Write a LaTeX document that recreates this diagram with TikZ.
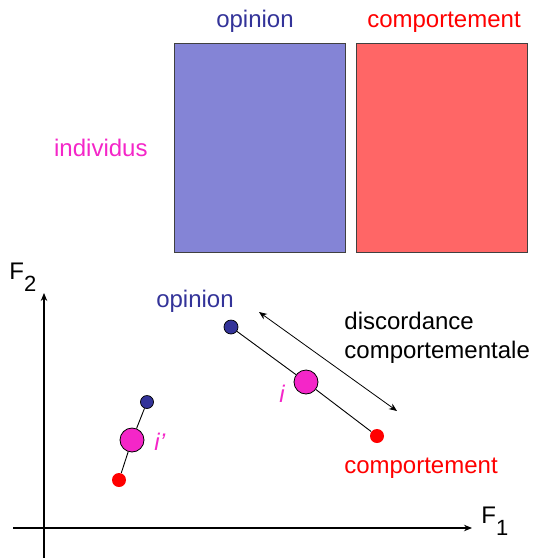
\documentclass[tikz,border=0pt]{standalone}
\usepackage{fontspec}
\setmainfont{Liberation Sans}
\usetikzlibrary{arrows.meta,positioning}
\definecolor{opblue}{HTML}{333399}
\definecolor{opfill}{HTML}{8484D6}
\definecolor{cpred}{HTML}{FF0000}
\definecolor{cpfill}{HTML}{FF6666}
\definecolor{indmag}{HTML}{F426C8}

\begin{document}
\begin{tikzpicture}[
  x=1pt, y=-1pt, >={Stealth[length=8pt,width=6.5pt]},
  font=\fontsize{24}{29}\selectfont, line width=0.9pt,
  block/.style={draw=black!75, line width=1pt, minimum width=171pt,
    minimum height=209pt, inner sep=0pt},
  dot/.style={circle, inner sep=0pt, minimum size=#1},
  opdot/.style={dot=14pt, draw=black, line width=0.7pt, fill=opblue},
  cpdot/.style={dot=14pt, fill=cpred},
  inddot/.style={dot=24pt, draw=black, line width=0.8pt, fill=indmag},
  lbl/.style={inner sep=0pt},
  axis/.style={line width=1.1pt, ->},
]
\useasboundingbox (0,0) rectangle (537,558);

% tableau individus x variables
\node[block, fill=opfill, anchor=north west] (op) at (174,43) {};
\node[block, fill=cpfill, right=10pt of op] (cp) {};
\node[lbl, opblue, anchor=base] (opt) at ([xshift=-5pt,yshift=16pt]op.north) {opinion};
\node[lbl, cpred, anchor=base] (cpt) at ([xshift=2pt,yshift=16pt]cp.north) {comportement};
\node[lbl, indmag, left=26pt of op] (ind) {individus};

% plan factoriel
\coordinate (xs) at (13,528);
\coordinate (xe) at (472,528);
\coordinate (ys) at (44,558);
\coordinate (ye) at (44,293);
\draw[axis] (xs) -- (xe);
\draw[axis] (ys) -- (ye);
\node[lbl, anchor=base west] (f1) at (481,523) {F\raisebox{-0.5em}{\fontsize{22}{22}\selectfont 1}};
\node[lbl, anchor=base west] (f2) at (9,279) {F\raisebox{-0.5em}{\fontsize{22}{22}\selectfont 2}};

% individu i
\node[opdot]  (oi) at (231,327) {};
\node[inddot] (mi) at (306,382) {};
\node[cpdot]  (ci) at (377,436) {};
\draw (oi) -- (mi);
\draw (mi) -- (ci);
\node[lbl, opblue, anchor=base] (oit) at (195,307) {opinion};
\node[lbl, cpred, anchor=base] (cit) at (421,473) {comportement};
\node[lbl, indmag, anchor=base] (mit) at (282,402) {\itshape i};

% individu i'
\node[opdot, dot=13pt] (oj) at (147,402) {};
\node[inddot] (mj) at (132,440) {};
\node[cpdot]  (cj) at (119,480) {};
\draw (oj) -- (mj);
\draw (mj) -- (cj);
\node[lbl, indmag, anchor=base west] (mjt) at (154,450) {\itshape i’};

% discordance
\coordinate (da) at (259,312);
\coordinate (db) at (397,411);
\draw[<->, line width=0.8pt] (da) -- (db);
\node[lbl, align=left, anchor=north west] (disc) at (344,312)
  {discordance\\comportementale};
\end{tikzpicture}
\end{document}
